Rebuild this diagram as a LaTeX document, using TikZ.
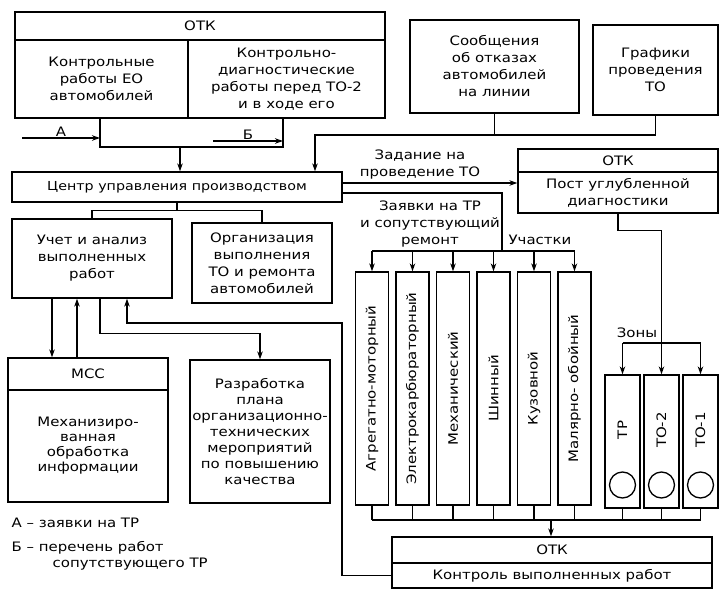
\documentclass[tikz,border=0pt]{standalone}
\usepackage{fontspec}
\setmainfont{DejaVu Sans}[FakeStretch=1.15]
\usepackage{tikz}
\usetikzlibrary{positioning,arrows.meta,calc}

\begin{document}
\begin{tikzpicture}[x=1pt,y=-1pt,>={Stealth[length=8pt,width=5.5pt]},line width=1.3pt]
  \tikzstyle{blk}=[draw,align=center,inner sep=1pt,font=\fontsize{13}{17}\selectfont]
  \tikzstyle{txt}=[align=center,inner sep=1pt,font=\fontsize{13}{17}\selectfont]
  \tikzstyle{uch}=[draw,minimum width=33,minimum height=233,inner sep=0pt]
  \tikzstyle{zona}=[draw,minimum width=35,minimum height=133,inner sep=0pt]

  \useasboundingbox (0,0) rectangle (720,591);

  % top row
  \node[blk,minimum width=370,minimum height=28] (otkA) at (200,26) {ОТК};
  \node[blk,minimum width=173,minimum height=78] (eo) at (101.5,79) {Контрольные\\работы ЕО\\автомобилей};
  \node[blk,minimum width=197,minimum height=78] (diag) at (286.5,79) {Контрольно-\\диагностические\\работы перед ТО-2\\и в ходе его};
  \node[blk,minimum width=169,minimum height=93] (soobsch) at (494.5,66.5) {Сообщения\\об отказах\\автомобилей\\на линии};
  \node[blk,minimum width=125,minimum height=90] (grafik) at (655.5,70) {Графики\\проведения\\ТО};

  % control centre
  \node[blk,minimum width=330,minimum height=30,font=\fontsize{12.4}{17}\selectfont] (cup) at (177,187) {Центр управления производством};
  \node[blk,minimum width=200,minimum height=23] (otkB) at (618,160.5) {ОТК};
  \node[blk,minimum width=200,minimum height=41] (post) at (618,192.5) {Пост углубленной\\диагностики};

  \node[blk,minimum width=160,minimum height=79] (uchet) at (92,258.5) {Учет и анализ\\выполненных\\работ};
  \node[blk,minimum width=140,minimum height=80] (org) at (262,263) {Организация\\выполнения\\ТО и ремонта\\автомобилей};

  \node[blk,minimum width=160,minimum height=32] (mss) at (88,374) {МСС};
  \node[blk,minimum width=160,minimum height=112,font=\fontsize{13}{15}\selectfont] (mssinfo) at (88,446) {Механизиро-\\ванная\\обработка\\информации};
  \node[blk,minimum width=140,minimum height=143,font=\fontsize{13}{16}\selectfont] (razrab) at (260,431.5) {Разработка\\плана\\организационно-\\технических\\мероприятий\\по повышению\\качества};

  % sections
  \foreach \tx [count=\i, evaluate=\i as \ux using {372+40.5*(\i-1)}] in {Агрегатно-моторный,Электрокарбюраторный,Механический,Шинный,Кузовной,Малярно- обойный}{
    \node[uch] (u\i) at (\ux,388.5) {};
    \node[txt,rotate=90] at (\ux,388.5) {\tx};
  }

  % zones
  \foreach \tx [count=\i, evaluate=\i as \zx using {622.5+39*(\i-1)}] in {ТР,ТО-2,ТО-1}{
    \node[zona] (z\i) at (\zx,441.5) {};
    \node[txt,rotate=90] at (\zx,430) {\tx};
    \node[draw,circle,minimum size=26,inner sep=0pt] at (\zx,485) {};
  }

  \node[blk,minimum width=320,minimum height=26] (otkC) at (552,550) {ОТК};
  \node[blk,minimum width=320,minimum height=25] (kontrol) at (552,575.5) {Контроль выполненных работ};

  % labels
  \node[txt] (zadanie) at (420,165) {Задание на\\проведение ТО};
  \node[txt] (zayavki) at (430,224) {Заявки на ТР\\и сопутствующий\\ремонт};
  \node[txt] (uchastki) at (540,240) {Участки};
  \node[txt] (zony) at (637,333) {Зоны};
  \node[txt,anchor=west] (legA) at (10,523) {А – заявки на ТР};
  \node[txt,anchor=west] (legB) at (10,548) {Б – перечень работ};
  \node[txt,anchor=west] (legB2) at (51,564) {сопутствующего ТР};

  % connectors
  \coordinate (jl) at (100,147);
  \coordinate (jr) at (283,147);
  \draw (eo.south -| jl) -- (jl) -- (jr) -- (diag.south -| jr);
  \coordinate (aS) at (22,138);
  \draw[->] (aS) -- (aS -| jl) node[midway,above,txt] {А};
  \coordinate (bS) at (213,141);
  \draw[->] (bS) -- (bS -| jr) node[midway,above,txt] {Б};
  \coordinate (j1) at (180,147);
  \draw[->] (j1) -- (j1 |- cup.north);

  \coordinate (j2) at (315,135);
  \draw (soobsch.south) |- (j2 -| grafik.south) -- (grafik.south);
  \draw[->] (soobsch.south |- j2) -- (j2) -- (j2 |- cup.north);

  \draw[->] ([yshift=4pt]cup.east) -- ([yshift=4pt]cup.east -| post.west);
  \coordinate (bus) at (502,251);
  \draw ([yshift=-6pt]cup.east) -| (bus);
  \draw (bus -| u1.north) -- (bus -| u6.north);
  \foreach \i in {1,...,6} \draw[->] (bus -| u\i.north) -- (u\i.north);

  \draw[->] (post.south) -- ++(0,17) -| (z2.north);
  \coordinate (zbus) at (662,343);
  \draw (zbus -| z1.north) -- (zbus -| z3.north);
  \draw[->] (zbus -| z1.north) -- (z1.north);
  \draw[->] (zbus -| z3.north) -- (z3.north);

  \coordinate (nbus) at (551,520);
  \foreach \i in {1,...,6} \draw (u\i.south) -- (u\i.south |- nbus);
  \foreach \i in {1,2,3} \draw (z\i.south) -- (z\i.south |- nbus);
  \draw (nbus -| u1.south) -- (nbus -| z3.south);
  \draw[->] (nbus) -- (nbus |- otkC.north);

  \draw (cup.south) -- ++(0,8) coordinate (j3);
  \draw (uchet.north) |- (j3) -| (org.north);

  \draw[->] ([xshift=-40pt]uchet.south) -- ([xshift=-40pt]uchet.south |- mss.north);
  \draw[->] ([xshift=-15pt]uchet.south |- mss.north) -- ([xshift=-15pt]uchet.south);
  \draw[->] ([xshift=8pt]uchet.south) -- ++(0,35) -| (razrab.north);
  \coordinate (loop) at (342,323);
  \draw[->] (kontrol.west) -| (loop) -| ([xshift=35pt]uchet.south);
\end{tikzpicture}
\end{document}
